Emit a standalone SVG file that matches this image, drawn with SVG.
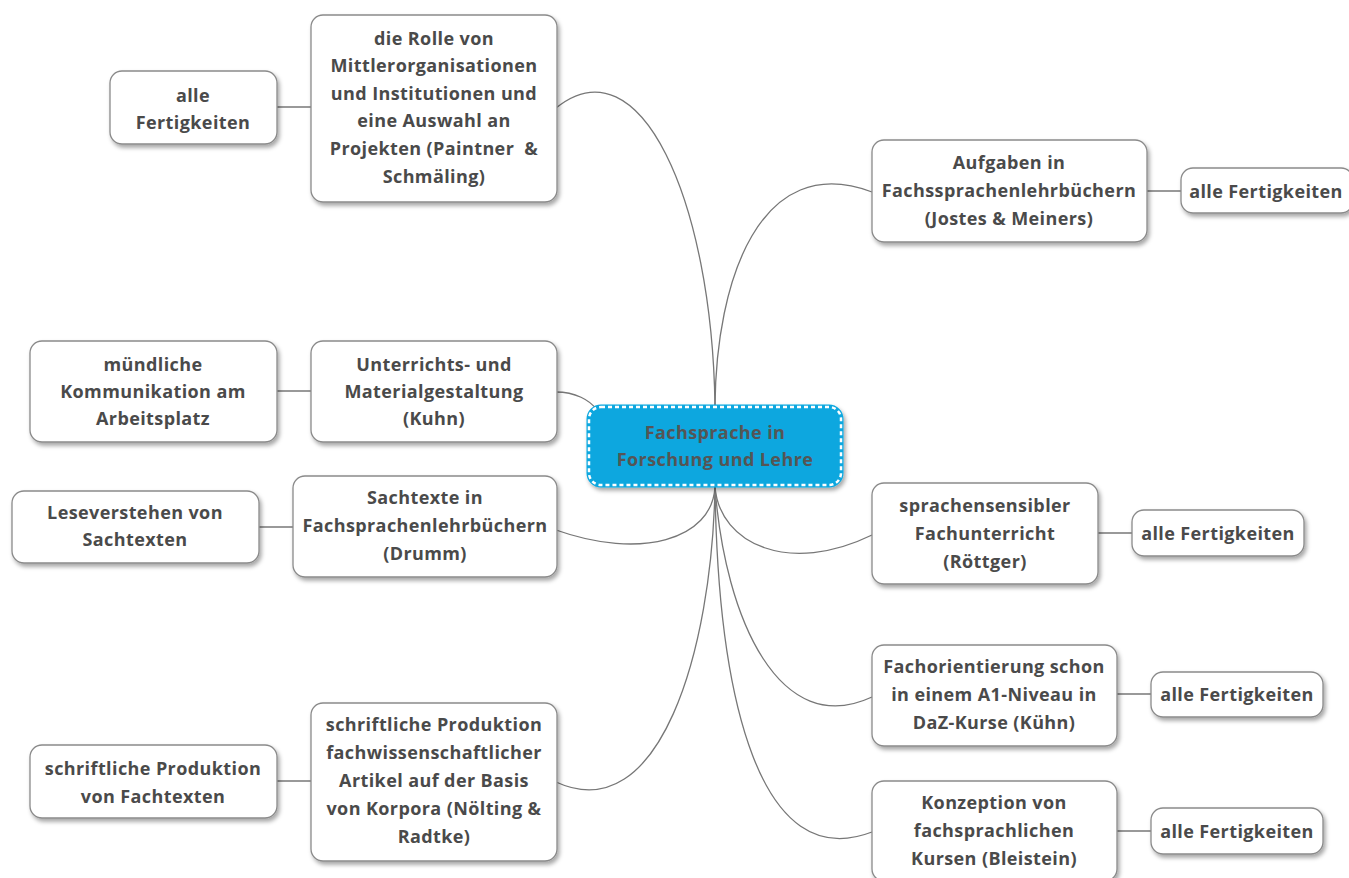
<svg xmlns="http://www.w3.org/2000/svg" width="1349" height="878" viewBox="0 0 1349 878">
<defs>
<filter id="sh" x="-10%" y="-10%" width="125%" height="130%">
<feDropShadow dx="2" dy="3" stdDeviation="2" flood-color="#000" flood-opacity="0.35"/>
</filter>
<style>
.n{fill:#fff;stroke:#8a8a8a;stroke-width:1.3;filter:url(#sh)}
.t{font-family:"Open Sans","DejaVu Sans",sans-serif;font-weight:bold;font-size:18px;letter-spacing:0.4px;fill:#4a4a4a;text-anchor:middle}
.c{fill:none;stroke:#777;stroke-width:1.3}
.s{fill:none;stroke:#999;stroke-width:2}
</style>
</defs>
<rect width="1349" height="878" fill="#fff"/>
<g id="connectors">
<path class="c" d="M715,406 C712,200 640,40 556,108"/>
<path class="c" d="M715,406 C716,280 760,150 872,192"/>
<path class="c" d="M556,392 C575,392 590,400 597,410"/>
<path class="c" d="M715,487 C712,540 640,560 556,530"/>
<path class="c" d="M715,487 C720,545 790,575 872,535"/>
<path class="c" d="M715,487 C725,620 780,740 872,697"/>
<path class="c" d="M715,487 C712,650 660,830 556,782"/>
<path class="c" d="M715,487 C718,700 760,875 872,832"/>
<path class="s" d="M277,107 H311"/>
<path class="s" d="M1147,191 H1181"/>
<path class="s" d="M277,391 H311"/>
<path class="s" d="M259,527 H293"/>
<path class="s" d="M1098,533 H1132"/>
<path class="s" d="M1117,694 H1151"/>
<path class="s" d="M1117,831 H1151"/>
<path class="s" d="M277,781 H311"/>
</g>
<g id="center">
<rect x="589" y="407" width="252" height="78" rx="12" fill="#09a7df" stroke="#09a7df" stroke-width="5" filter="url(#sh)"/>
<rect x="589" y="407" width="252" height="78" rx="12" fill="none" stroke="#fff" stroke-width="2.5" stroke-dasharray="4 3"/>
<text class="t" x="715" y="439" style="fill:#555">Fachsprache in</text>
<text class="t" x="715" y="466" style="fill:#555">Forschung und Lehre</text>
</g>
<g id="rolle">
<rect class="n" x="311" y="15" width="246" height="187" rx="12"/>
<text class="t" x="434" y="45">die Rolle von</text>
<text class="t" x="434" y="72">Mittlerorganisationen</text>
<text class="t" x="434" y="100">und Institutionen und</text>
<text class="t" x="434" y="127">eine Auswahl an</text>
<text class="t" x="434" y="155" xml:space="preserve">Projekten (Paintner  &amp;</text>
<text class="t" x="434" y="183">Schmäling)</text>
</g>
<g id="rolle-f">
<rect class="n" x="110" y="71" width="167" height="73" rx="12"/>
<text class="t" x="193" y="102">alle</text>
<text class="t" x="193" y="129">Fertigkeiten</text>
</g>
<g id="aufgaben">
<rect class="n" x="872" y="140" width="275" height="102" rx="12"/>
<text class="t" x="1009" y="169">Aufgaben in</text>
<text class="t" x="1009" y="197">Fachssprachenlehrbüchern</text>
<text class="t" x="1009" y="225">(Jostes &amp; Meiners)</text>
</g>
<g id="aufgaben-f">
<rect class="n" x="1181" y="168" width="172" height="45" rx="12"/>
<text class="t" x="1266" y="198">alle Fertigkeiten</text>
</g>
<g id="unterricht">
<rect class="n" x="311" y="341" width="246" height="101" rx="12"/>
<text class="t" x="434" y="371">Unterrichts- und</text>
<text class="t" x="434" y="398">Materialgestaltung</text>
<text class="t" x="434" y="425">(Kuhn)</text>
</g>
<g id="unterricht-f">
<rect class="n" x="30" y="341" width="247" height="101" rx="12"/>
<text class="t" x="153" y="371">mündliche</text>
<text class="t" x="153" y="398">Kommunikation am</text>
<text class="t" x="153" y="425">Arbeitsplatz</text>
</g>
<g id="sachtexte">
<rect class="n" x="293" y="476" width="264" height="101" rx="12"/>
<text class="t" x="425" y="504">Sachtexte in</text>
<text class="t" x="425" y="532">Fachsprachenlehrbüchern</text>
<text class="t" x="425" y="560">(Drumm)</text>
</g>
<g id="sachtexte-f">
<rect class="n" x="12" y="491" width="247" height="72" rx="12"/>
<text class="t" x="135" y="519">Leseverstehen von</text>
<text class="t" x="135" y="546">Sachtexten</text>
</g>
<g id="sensibel">
<rect class="n" x="872" y="483" width="226" height="101" rx="12"/>
<text class="t" x="985" y="512">sprachensensibler</text>
<text class="t" x="985" y="540">Fachunterricht</text>
<text class="t" x="985" y="568">(Röttger)</text>
</g>
<g id="sensibel-f">
<rect class="n" x="1132" y="510" width="172" height="46" rx="12"/>
<text class="t" x="1218" y="540">alle Fertigkeiten</text>
</g>
<g id="fachorientierung">
<rect class="n" x="872" y="645" width="245" height="101" rx="12"/>
<text class="t" x="994" y="673">Fachorientierung schon</text>
<text class="t" x="994" y="701">in einem A1-Niveau in</text>
<text class="t" x="994" y="729">DaZ-Kurse (Kühn)</text>
</g>
<g id="fachorientierung-f">
<rect class="n" x="1151" y="672" width="172" height="45" rx="12"/>
<text class="t" x="1237" y="701">alle Fertigkeiten</text>
</g>
<g id="konzeption">
<rect class="n" x="872" y="781" width="245" height="100" rx="12"/>
<text class="t" x="994" y="809">Konzeption von</text>
<text class="t" x="994" y="837">fachsprachlichen</text>
<text class="t" x="994" y="865">Kursen (Bleistein)</text>
</g>
<g id="konzeption-f">
<rect class="n" x="1151" y="808" width="172" height="46" rx="12"/>
<text class="t" x="1237" y="838">alle Fertigkeiten</text>
</g>
<g id="produktion">
<rect class="n" x="311" y="703" width="246" height="158" rx="12"/>
<text class="t" x="434" y="731">schriftliche Produktion</text>
<text class="t" x="434" y="759">fachwissenschaftlicher</text>
<text class="t" x="434" y="787">Artikel auf der Basis</text>
<text class="t" x="434" y="815">von Korpora (Nölting &amp;</text>
<text class="t" x="434" y="843">Radtke)</text>
</g>
<g id="produktion-f">
<rect class="n" x="30" y="745" width="247" height="73" rx="12"/>
<text class="t" x="153" y="775">schriftliche Produktion</text>
<text class="t" x="153" y="803">von Fachtexten</text>
</g>
</svg>
